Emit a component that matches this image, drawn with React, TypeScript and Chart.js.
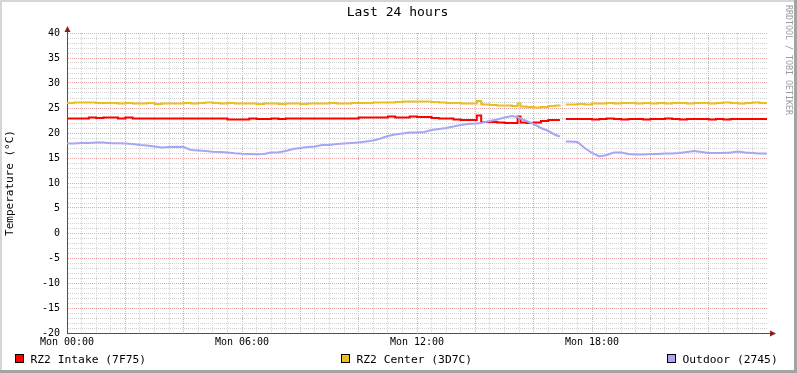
import React, { useEffect, useRef } from 'react';
import { Chart, registerables } from 'chart.js';

Chart.register(...registerables);

// ---- data ----
const HOURS = [
  0, 0.25, 0.5, 0.75, 1, 1.25, 1.5, 1.75, 2, 2.25, 2.5, 2.75, 3, 3.25, 3.5, 3.75,
  4, 4.25, 4.5, 4.75, 5, 5.25, 5.5, 5.75, 6, 6.25, 6.5, 6.75, 7, 7.25, 7.5, 7.75,
  8, 8.25, 8.5, 8.75, 9, 9.25, 9.5, 9.75, 10, 10.25, 10.5, 10.75, 11, 11.25, 11.5, 11.75,
  12, 12.25, 12.5, 12.75, 13, 13.25, 13.5, 13.75, 14, 14.05, 14.2, 14.25, 14.5, 14.75,
  15, 15.25, 15.45, 15.55, 15.75, 16, 16.25, 16.5, 16.75, 16.9, 17.0, 17.1, 17.25, 17.5, 17.75,
  18, 18.25, 18.5, 18.75, 19, 19.25, 19.5, 19.75, 20, 20.25, 20.5, 20.75,
  21, 21.25, 21.5, 21.75, 22, 22.25, 22.5, 22.75, 23, 23.25, 23.5, 23.75, 24,
];

const INTAKE = [
  22.9, 22.9, 22.9, 23.1, 23.0, 23.1, 23.1, 22.9, 23.1, 22.9, 22.9, 22.9, 22.9, 22.9, 22.9, 22.9,
  22.9, 22.9, 22.9, 22.9, 22.9, 22.9, 22.7, 22.7, 22.7, 22.9, 22.8, 22.8, 22.9, 22.8, 22.9, 22.9,
  22.9, 22.9, 22.9, 22.9, 22.9, 22.9, 22.9, 22.9, 23.1, 23.1, 23.1, 23.1, 23.3, 23.1, 23.1, 23.3,
  23.2, 23.2, 23.0, 22.9, 22.9, 22.7, 22.6, 22.6, 22.6, 23.5, 22.2, 22.2, 22.2, 22.1,
  22.0, 22.0, 23.3, 22.1, 22.0, 22.1, 22.4, 22.6, 22.6, 22.6, null, 22.8, 22.8, 22.8, 22.8,
  22.7, 22.8, 22.9, 22.8, 22.7, 22.8, 22.8, 22.7, 22.8, 22.8, 22.9, 22.8,
  22.7, 22.8, 22.8, 22.8, 22.7, 22.8, 22.7, 22.8, 22.8, 22.8, 22.8, 22.8, 22.8,
];

const CENTER = [
  26.0, 26.1, 26.1, 26.1, 26.0, 26.0, 26.0, 25.9, 26.0, 25.9, 25.9, 26.0, 25.8, 25.9, 25.9, 25.9,
  26.0, 25.9, 26.0, 26.1, 26.0, 25.9, 26.0, 25.9, 25.9, 25.9, 25.8, 25.9, 25.9, 25.8, 25.9, 25.9,
  25.8, 25.9, 25.9, 25.9, 26.0, 25.9, 25.9, 26.0, 26.0, 26.0, 26.1, 26.1, 26.1, 26.2, 26.3, 26.3,
  26.3, 26.3, 26.2, 26.1, 26.0, 26.0, 25.9, 25.9, 25.9, 26.4, 25.8, 25.7, 25.6, 25.5,
  25.5, 25.4, 25.9, 25.3, 25.2, 25.1, 25.2, 25.4, 25.5, 25.6, null, 25.7, 25.7, 25.8, 25.7,
  25.9, 25.9, 26.0, 25.9, 26.0, 26.0, 25.9, 26.0, 25.9, 26.0, 25.9, 26.0,
  26.0, 25.9, 26.0, 26.0, 25.9, 26.0, 26.1, 26.0, 25.9, 26.0, 26.1, 26.0, 26.0,
];

const OUTDOOR = [
  17.9, 17.9, 18.0, 18.0, 18.1, 18.1, 17.95, 17.95, 17.9, 17.8, 17.6, 17.5, 17.3, 17.1, 17.2, 17.25,
  17.2, 16.6, 16.5, 16.4, 16.25, 16.2, 16.1, 15.95, 15.85, 15.8, 15.75, 15.8, 16.1, 16.15, 16.4, 16.8,
  17.0, 17.2, 17.3, 17.6, 17.6, 17.8, 17.9, 18.0, 18.1, 18.3, 18.5, 18.9, 19.4, 19.7, 19.9, 20.1,
  20.1, 20.2, 20.6, 20.8, 21.0, 21.3, 21.6, 21.8, 21.9, 21.9, 22.0, 22.1, 22.4, 22.7,
  23.1, 23.4, 23.2, 22.9, 22.4, 21.8, 21.0, 20.4, 19.6, 19.3, null, 18.3, 18.3, 18.2, 17.0,
  16.0, 15.3, 15.6, 16.1, 16.1, 15.8, 15.7, 15.7, 15.8, 15.8, 15.9, 15.9,
  16.0, 16.2, 16.4, 16.2, 16.0, 16.0, 16.0, 16.1, 16.3, 16.1, 16.0, 15.9, 15.9,
];

const SERIES_LABELS = ['RZ2 Intake (7F75)', 'RZ2 Center (3D7C)', 'Outdoor (2745)'];
const SERIES_COLORS = ['#ff0000', '#e8c020', '#a6a6f4'];
const X_TICK_HOURS = [0, 6, 12, 18];
const X_TICK_LABELS = ['Mon 00:00', 'Mon 06:00', 'Mon 12:00', 'Mon 18:00'];
const Y_TICK_VALUES = [-20, -15, -10, -5, 0, 5, 10, 15, 20, 25, 30, 35, 40];
const TITLE = 'Last 24 hours';
const Y_TITLE = 'Temperature (°C)';
const WATERMARK = 'RRDTOOL / TOBI OETIKER';

const FONT = "'DejaVu Sans Mono', monospace";
const AXIS_COLOR = '#5e4a4a';
const ARROW_COLOR = '#8b1c1c';
const MAJOR_GRID = '#eaa4a4';
const MINOR_GRID = '#d2d2d2';

const rrdPlugin = {
  id: 'rrdDecor',
  beforeDraw(chart: any) {
    const { ctx, width, height } = chart;
    ctx.save();
    ctx.fillStyle = '#ffffff';
    ctx.fillRect(0, 0, width, height);
    ctx.fillStyle = '#d6d6d6';
    ctx.fillRect(0, 0, width, 2);
    ctx.fillRect(0, 0, 2, height);
    ctx.fillStyle = '#a3a3a3';
    ctx.fillRect(0, height - 3, width, 3);
    ctx.fillRect(width - 3, 0, 3, height);
    ctx.restore();
  },
  afterDraw(chart: any) {
    const { ctx, chartArea: a, width } = chart;
    ctx.save();
    ctx.strokeStyle = AXIS_COLOR;
    ctx.lineWidth = 1;
    ctx.beginPath();
    ctx.moveTo(a.left + 0.5, a.top);
    ctx.lineTo(a.left + 0.5, a.top - 3);
    ctx.moveTo(a.right, a.bottom + 0.5);
    ctx.lineTo(a.right + 3, a.bottom + 0.5);
    ctx.stroke();
    ctx.fillStyle = ARROW_COLOR;
    ctx.beginPath();
    ctx.moveTo(a.left + 0.5, a.top - 7);
    ctx.lineTo(a.left - 2.5, a.top - 1);
    ctx.lineTo(a.left + 3.5, a.top - 1);
    ctx.closePath();
    ctx.fill();
    ctx.beginPath();
    ctx.moveTo(a.right + 9, a.bottom + 0.5);
    ctx.lineTo(a.right + 3, a.bottom - 2.5);
    ctx.lineTo(a.right + 3, a.bottom + 3.5);
    ctx.closePath();
    ctx.fill();

    ctx.fillStyle = '#000';
    ctx.font = `13px ${FONT}`;
    ctx.textAlign = 'center';
    ctx.textBaseline = 'middle';
    ctx.fillText(TITLE, width / 2 - 1, 13);

    ctx.font = `11.3px ${FONT}`;
    ctx.textAlign = 'left';
    ctx.textBaseline = 'alphabetic';
    SERIES_LABELS.forEach((lab, i) => {
      const x = 15 + i * 326;
      const y = 354;
      ctx.fillStyle = SERIES_COLORS[i];
      ctx.fillRect(x, y, 9, 9);
      ctx.strokeStyle = '#000';
      ctx.lineWidth = 1;
      ctx.strokeRect(x + 0.5, y + 0.5, 8, 8);
      ctx.fillStyle = '#000';
      ctx.fillText(lab, x + 15.5, 363);
    });

    ctx.translate(788, 5);
    ctx.rotate(Math.PI / 2);
    ctx.font = `8.3px ${FONT}`;
    ctx.fillStyle = '#9a9a9a';
    ctx.textBaseline = 'middle';
    ctx.fillText(WATERMARK, 0, 0);
    ctx.restore();
  },
};

export default function App() {
  const ref = useRef<HTMLCanvasElement | null>(null);

  useEffect(() => {
    document.body.style.margin = '0';
    const canvas = ref.current;
    if (!canvas) return;
    const mk = (vals: (number | null)[]) => HOURS.map((h, i) => ({ x: h, y: vals[i] }));
    const chart = new Chart(canvas, {
      type: 'line',
      data: {
        datasets: [
          {
            label: SERIES_LABELS[0],
            data: mk(INTAKE) as any,
            borderColor: SERIES_COLORS[0],
            borderWidth: 2,
            pointRadius: 0,
            stepped: 'before',
            order: 1,
          },
          {
            label: SERIES_LABELS[1],
            data: mk(CENTER) as any,
            borderColor: SERIES_COLORS[1],
            borderWidth: 2,
            pointRadius: 0,
            stepped: 'before',
            order: 2,
          },
          {
            label: SERIES_LABELS[2],
            data: mk(OUTDOOR) as any,
            borderColor: SERIES_COLORS[2],
            borderWidth: 2,
            pointRadius: 0,
            tension: 0,
            order: 0,
          },
        ],
      },
      options: {
        animation: false,
        responsive: false,
        devicePixelRatio: 1,
        layout: { padding: { top: 33, right: 30, left: 0, bottom: 0 } },
        plugins: {
          legend: { display: false },
          title: { display: false },
          tooltip: { enabled: false },
        },
        scales: {
          x: {
            type: 'linear',
            min: 0,
            max: 24,
            afterFit: (s: any) => {
              s.height = 40;
            },
            border: { display: true, color: AXIS_COLOR, width: 1, dash: [1, 1] },
            grid: {
              drawTicks: false,
              lineWidth: 1,
              color: (c: any) => {
                const v = c.tick ? c.tick.value : 0;
                if (v === 0 || v === 24) return 'rgba(0,0,0,0)';
                return v % 2 === 0 ? MAJOR_GRID : MINOR_GRID;
              },
            },
            ticks: {
              stepSize: 0.5,
              autoSkip: false,
              maxRotation: 0,
              minRotation: 0,
              padding: 3,
              color: '#000',
              font: { family: FONT, size: 10 },
              callback: (v: any) => {
                const i = X_TICK_HOURS.indexOf(Number(v));
                return i >= 0 ? X_TICK_LABELS[i] : '';
              },
            },
          },
          y: {
            type: 'linear',
            min: -20,
            max: 40,
            afterFit: (s: any) => {
              s.width = 67;
            },
            border: { display: true, color: AXIS_COLOR, width: 1, dash: [1, 1] },
            grid: {
              drawTicks: false,
              lineWidth: 1,
              color: (c: any) => {
                const v = c.tick ? c.tick.value : 0;
                if (v === -20) return 'rgba(0,0,0,0)';
                return v % 5 === 0 ? MAJOR_GRID : MINOR_GRID;
              },
            },
            title: {
              display: true,
              text: Y_TITLE,
              color: '#000',
              font: { family: FONT, size: 11 },
              padding: { top: 4, bottom: 0 },
            },
            ticks: {
              stepSize: 1,
              autoSkip: false,
              padding: 7,
              color: '#000',
              font: { family: FONT, size: 10 },
              callback: (v: any) => (Y_TICK_VALUES.includes(Number(v)) ? String(v) : ''),
            },
          },
        },
      },
      plugins: [rrdPlugin],
    });
    return () => chart.destroy();
  }, []);

  return (
    <div style={{ position: 'fixed', left: 0, top: 0, width: 797, height: 373 }}>
      <canvas ref={ref} width={797} height={373} style={{ display: 'block', width: 797, height: 373 }} />
    </div>
  );
}
